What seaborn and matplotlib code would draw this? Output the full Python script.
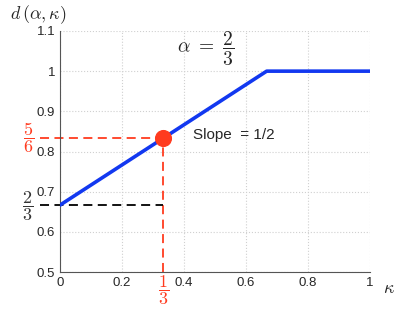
import numpy as np
import matplotlib
matplotlib.use("Agg")
import matplotlib.pyplot as plt
import seaborn as sns

# piecewise linear d(alpha, kappa) for alpha = 2/3
kappa = [0.0, 2/3, 1.0]
d_val = [2/3, 1.0, 1.0]

# highlighted point and reference levels
pt_kappa = 1/3
pt_d = 5/6
base_d = 2/3

xticks = [0, 0.2, 0.4, 0.6, 0.8, 1]
xtick_labels = ["0", "0.2", "0.4", "0.6", "0.8", "1"]
yticks = [0.5, 0.6, 0.7, 0.8, 0.9, 1, 1.1]
ytick_labels = ["0.5", "0.6", "0.7", "0.8", "0.9", "1", "1.1"]

sns.set_style("white")
plt.rcParams['font.family'] = ['Liberation Sans', 'DejaVu Sans']
plt.rcParams['mathtext.fontset'] = 'cm'

fig = plt.figure(figsize=(4.15, 3.16), dpi=100)
ax = fig.add_axes([0.1446, 0.139, 0.7470, 0.763])

ax.grid(True, linestyle=':', color='#d0d0d0', linewidth=0.8)
sns.lineplot(x=kappa, y=d_val, color='#1238f0', lw=2.6, ax=ax, zorder=3)

red = '#ff3b1f'
# dashed guides
ax.plot([-0.065, pt_kappa], [pt_d, pt_d], '--', color=red, lw=1.3, clip_on=False, dashes=(5, 3))
ax.plot([pt_kappa, pt_kappa], [0.5, pt_d], '--', color=red, lw=1.3, clip_on=False, dashes=(5, 3))
ax.plot([-0.065, pt_kappa], [base_d, base_d], '--', color='black', lw=1.3, clip_on=False, dashes=(5, 3))
sns.scatterplot(x=[pt_kappa], y=[pt_d], color=red, s=130, edgecolor=red, ax=ax, zorder=4)

ax.set_xlim(0, 1)
ax.set_ylim(0.5, 1.1)
ax.set_xticks(xticks)
ax.set_xticklabels(xtick_labels)
ax.set_yticks(yticks)
ax.set_yticklabels(ytick_labels)
ax.tick_params(direction='in', length=3, labelsize=9.5, color='#333333')
for s in ['top', 'right']:
    ax.spines[s].set_visible(False)
for s in ['left', 'bottom']:
    ax.spines[s].set_color('#555555')
    ax.spines[s].set_linewidth(0.8)

# annotations
ax.text(0.47, 1.055, r'$\alpha\ =\ \dfrac{2}{3}$', fontsize=14, ha='center', va='center')
ax.text(0.43, 0.84, 'Slope  = 1/2', fontsize=11, ha='left', va='center')
ax.text(-0.1, pt_d, r'$\dfrac{5}{6}$', color=red, fontsize=13, ha='center', va='center')
ax.text(-0.105, base_d - 0.003, r'$\dfrac{2}{3}$', color='#333333', fontsize=13, ha='center', va='center')
ax.text(pt_kappa, 0.455, r'$\dfrac{1}{3}$', color=red, fontsize=13, ha='center', va='center')
ax.text(1.06, 0.46, r'$\kappa$', fontsize=13, ha='center', va='center')
ax.text(-0.07, 1.14, r'$d\,(\alpha, \kappa)$', fontsize=13, ha='center', va='center')

fig.savefig('out.png', dpi=100)
